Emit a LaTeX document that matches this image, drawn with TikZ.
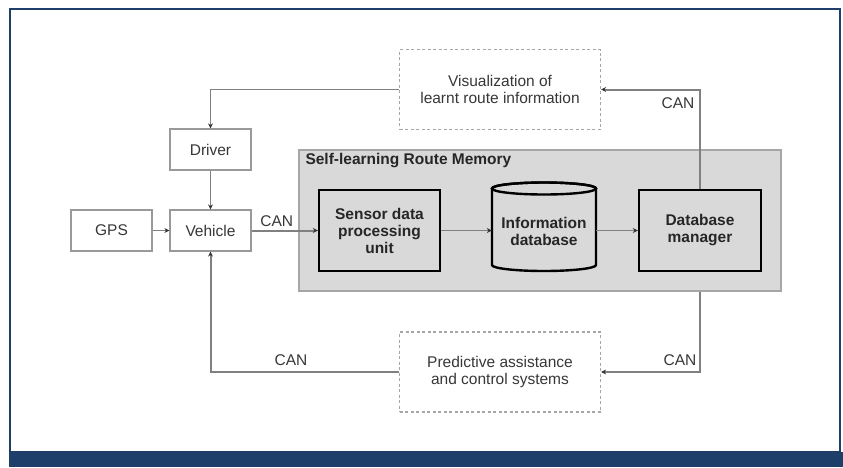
\documentclass[tikz,border=0pt]{standalone}
\usepackage{fontspec}
\setmainfont{Liberation Sans}
\usepackage{tikz}
\usetikzlibrary{arrows.meta}
\definecolor{framecol}{RGB}{31,63,107}
\definecolor{memgray}{RGB}{217,217,217}
\definecolor{linegray}{RGB}{128,128,128}
\definecolor{txtgray}{RGB}{55,55,55}

\begin{document}
\begin{tikzpicture}[x=1pt,y=-1pt,
  font=\fontsize{15.5}{17}\selectfont,
  plainbox/.style={draw=linegray!80,line width=1.2pt,fill=white,text=txtgray,
    minimum width=81pt,minimum height=41pt,inner sep=0pt},
  unitbox/.style={draw=black,line width=2.4pt,fill=memgray,text=black!85,
    font=\fontsize{15.5}{17}\selectfont\bfseries,align=center,inner sep=0pt},
  dashbox/.style={draw=linegray!70,line width=1.2pt,dash pattern=on 3pt off 2.5pt,
    text=txtgray,align=center,minimum width=201pt,minimum height=80pt,inner sep=0pt},
  thin/.style={draw=linegray,line width=1.3pt,-{Stealth[length=5pt,width=5pt,color=black!80]}},
  bus/.style={draw=linegray,line width=2pt,-{Stealth[length=5pt,width=5pt,color=black!80]}},
  canlabel/.style={text=txtgray}]
        \useasboundingbox (0,0) rectangle (843,467);
        \fill[framecol] (9,452) rectangle (843,467);
        \draw[framecol,line width=2pt] (10,9) rectangle (840,452);

        \node[draw=linegray!70,line width=1.2pt,fill=memgray,minimum width=482pt,
          minimum height=141pt,inner sep=0pt] (memory) at (540,220.5) {};
        \node[anchor=west,font=\fontsize{15.5}{17}\selectfont\bfseries,text=black!85]
          (memlabel) at (302,161) {Self-learning Route Memory};

        \node[plainbox] (gps) at (111.5,230.5) {GPS};
        \node[plainbox] (driver) at (210.5,149.5) {Driver};
        \node[plainbox] (vehicle) at (210.5,230.5) {Vehicle};
        \node[unitbox,minimum width=121pt,minimum height=81pt] (sensor) at (379.5,230.5)
          {Sensor data\\processing\\unit};
        \filldraw[draw=black,line width=2.4pt,fill=memgray]
          (492,188.5) -- (492,265) arc[start angle=180,end angle=360,x radius=52pt,y radius=6pt]
          -- (596,188.5) arc[start angle=0,end angle=180,x radius=52pt,y radius=6pt] -- cycle;
        \draw[black,line width=2.4pt] (544,188.5) ellipse[x radius=52pt,y radius=6pt];
        \node[minimum width=104pt,inner sep=0pt,align=center,text=black!85,
          font=\fontsize{15.5}{17}\selectfont\bfseries] (infodb) at (544,231.5)
          {Information\\database};
        \node[unitbox,minimum width=122pt,minimum height=81pt] (dbman) at (700,230.5)
          {Database\\manager};

        \node[dashbox] (vis) at (500,89.5) {Visualization of\\learnt route information};
        \node[dashbox] (pred) at (500,372) {Predictive assistance\\and control systems};

        \draw[thin] (vis.west) -| (driver.north);
        \draw[thin] (driver) -- (vehicle);
        \draw[thin] (gps) -- (vehicle);
        \draw[bus] (vehicle) -- node[pos=0.38,above,canlabel] (canA) {CAN} (sensor);
        \draw[thin] (sensor.east) -- (sensor.east -| infodb.west);
        \draw[thin] (infodb.east |- dbman.west) -- (dbman.west);
        \draw[bus] (dbman.north) |- (vis.east);
        \draw[bus] (memory.south -| dbman.north) |- (pred.east);
        \draw[bus] (pred.west) -| (vehicle.south);
        \node[canlabel] (canB) at (678,103) {CAN};
        \node[canlabel] (canC) at (680,360) {CAN};
        \node[canlabel] (canD) at (291,360) {CAN};
\end{tikzpicture}
\end{document}
